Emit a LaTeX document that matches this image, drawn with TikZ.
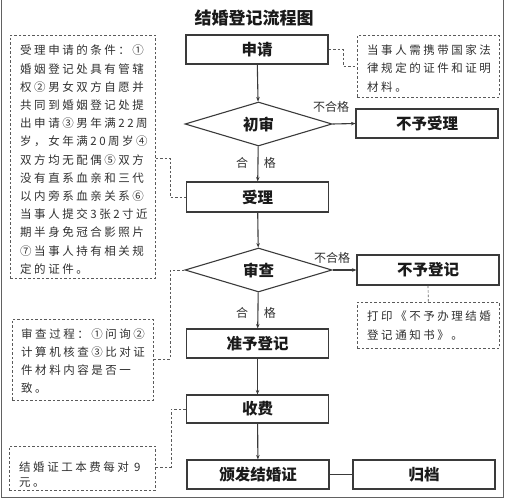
\documentclass[tikz,border=0pt]{standalone}
\usepackage{fontspec}
\usetikzlibrary{shapes.geometric,arrows.meta}
\newfontfamily\cjk{Noto Sans CJK SC}
\newfontfamily\cjknote[LetterSpace=22]{Noto Sans CJK SC}
\definecolor{boxline}{HTML}{3A3A3A}
\definecolor{dline}{HTML}{5A5A5A}
\definecolor{txt}{HTML}{1A1A1A}
\definecolor{notetxt}{HTML}{303030}
\tikzset{
  procbox/.style={draw=boxline,line width=1.1pt,minimum width=142pt,minimum height=29pt,inner sep=0pt,font=\cjk\bfseries\fontsize{15.5}{18}\selectfont,text=txt},
  decbox/.style={draw=boxline,line width=1.1pt,diamond,aspect=3.34,minimum width=147pt,minimum height=44pt,inner sep=0pt,font=\cjk\bfseries\fontsize{15.5}{18}\selectfont,text=txt},
  notebox/.style={draw=dline,line width=0.7pt,dash pattern=on 2.5pt off 2pt,inner sep=0pt,anchor=north west},
  notetext/.style={anchor=north west,inner sep=0pt,align=left,text=notetxt},
  dconn/.style={draw=dline,line width=0.7pt,dash pattern=on 2.5pt off 2pt},
  flow/.style={draw=boxline,line width=1.1pt,-{Stealth[length=4.5pt,width=3.5pt]}},
  lbl/.style={inner sep=0pt,font=\cjk\fontsize{12}{14}\selectfont,text=notetxt},
}
\begin{document}
\begin{tikzpicture}[x=1pt,y=-1pt]
\useasboundingbox (0,0) rectangle (506,500);
% outer frame
\draw[draw=boxline!80,line width=1pt] (1.5,-2) rectangle (503,497.5);
% title
\node[inner sep=0pt,font=\cjk\bfseries\fontsize{17}{20}\selectfont,text=txt] (title) at (254,18) {结婚登记流程图};
% main flow
\node[procbox] (shen) at (257,49.5) {申请};
\node[decbox] (chushen) at (258.5,124) {初审};
\node[procbox] (buyushouli) at (427,123.5) {不予受理};
\node[procbox,minimum height=30pt] (shouli) at (257.5,197) {受理};
\node[decbox] (shencha) at (258.5,270) {审查};
\node[procbox,minimum height=30pt] (buyudengji) at (428,270) {不予登记};
\node[procbox] (zhunyu) at (257.5,343.5) {准予登记};
\node[procbox,minimum height=28pt] (shoufei) at (257.5,409) {收费};
\node[procbox] (banfa) at (258,474.5) {颁发结婚证};
\node[procbox] (guidang) at (424,474.5) {归档};
% dashed note boxes
\node[notebox,minimum width=145pt,minimum height=243pt] (L1) at (10,35) {};
\node[notebox,minimum width=142pt,minimum height=62pt] (R1) at (357,35) {};
\node[notebox,minimum width=142pt,minimum height=46pt] (R2) at (357,302) {};
\node[notebox,minimum width=141pt,minimum height=81pt] (L2) at (12,319) {};
\node[notebox,minimum width=146pt,minimum height=44pt] (L3) at (9,446) {};
% note texts
\node[notetext,font=\cjknote\fontsize{11.5}{18.2}\selectfont] (L1t) at (20,45) {受理申请的条件：①\\婚姻登记处具有管辖\\权②男女双方自愿并\\共同到婚姻登记处提\\出申请③男年满22周\\岁，女年满20周岁④\\双方均无配偶⑤双方\\没有直系血亲和三代\\以内旁系血亲关系⑥\\当事人提交3张2寸近\\期半身免冠合影照片\\⑦当事人持有相关规\\定的证件。};
\node[notetext,font=\cjknote\fontsize{11.5}{18.5}\selectfont] (R1t) at (367,44.3) {当事人需携带国家法\\律规定的证件和证明\\材料。};
\node[notetext,font=\cjknote\fontsize{11.5}{19}\selectfont] (R2t) at (367,310.3) {打印《不予办理结婚\\登记通知书》。};
\node[notetext,font=\cjknote\fontsize{11.5}{18}\selectfont] (L2t) at (21,328.3) {审查过程：①问询②\\计算机核查③比对证\\件材料内容是否一\\致。};
\node[notetext,font=\cjknote\fontsize{11.5}{15.5}\selectfont] (L3t) at (19,461.3) {结婚证工本费每对 9\\元。};
% flow arrows
\draw[flow] (shen) -- (chushen);
\draw[flow] (chushen) -- (shouli);
\draw[flow] (shouli) -- (shencha);
\draw[flow] (shencha) -- (zhunyu);
\draw[flow] (zhunyu) -- (shoufei);
\draw[flow] (shoufei) -- (banfa);
\draw[flow] (chushen.east) -- (buyushouli.west);
\draw[flow] (shencha.east) -- (buyudengji.west);
\draw[draw=boxline,line width=1.1pt] (banfa.east) -- (guidang.west);
% labels
\node[lbl] (ng1) at (331,107) {不合格};
\node[lbl] (ng2) at (332,258) {不合格};
\node[lbl] (ok1) at (256,163) {合\hspace{16pt}格};
\node[lbl] (ok2) at (256,313) {合\hspace{16pt}格};
% dashed connectors
\coordinate (b1) at (343,66);
\coordinate (b2) at (170,158);
\coordinate (b3) at (170,359);
\coordinate (b4) at (171,467);
\draw[dconn] (shen.east) -| (b1) -- (R1.west |- b1);
\draw[dconn] (L1.east |- b2) -- (b2) |- (shouli.west);
\draw[dconn] (shencha.west) -| (b3) -- (L2.east |- b3);
\draw[dconn] (shoufei.west) -| (b4) -- (L3.east |- b4);
\draw[dconn] (buyudengji.south) -- (R2.north);
\end{tikzpicture}
\end{document}
